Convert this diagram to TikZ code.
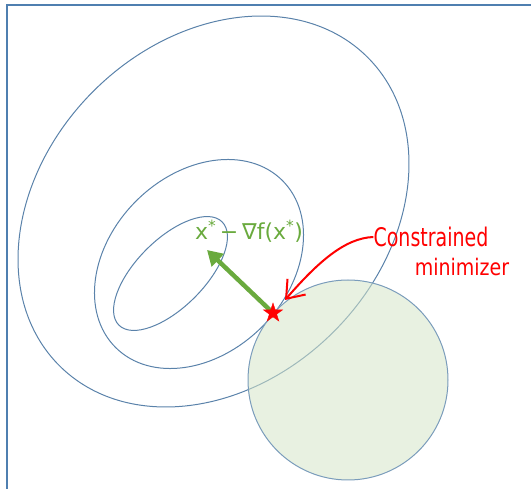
\documentclass[tikz,border=0pt]{standalone}
\usepackage{fontspec}
\setmainfont{DejaVu Sans}
\usepackage{xcolor}
\usepackage{tikz}
\usetikzlibrary{arrows.meta,shapes.geometric}
\definecolor{frameblue}{HTML}{4F7FB0}
\definecolor{levelblue}{HTML}{5A82AA}
\definecolor{circleblue}{HTML}{7A9CBB}
\definecolor{feasgreen}{HTML}{D6E6C8}
\definecolor{gradgreen}{HTML}{6AAA3E}

\begin{document}
\begin{tikzpicture}[x=1pt,y=-1pt,
  frameline/.style={draw=frameblue, line width=1.2pt},
  contour/.style={draw=levelblue, line width=1pt},
  feasible/.style={draw=circleblue, line width=1pt, fill=feasgreen, fill opacity=0.55},
  grad/.style={draw=gradgreen, line width=4.5pt, -{Triangle[length=15pt,width=17pt]}},
  pointer/.style={draw=red, line width=2pt, -{Straight Barb[length=16pt,width=24pt]}},
  minstar/.style={star, star points=5, star point ratio=2.6, minimum size=20pt, inner sep=0pt, fill=red, draw=red},
  gradlabel/.style={text=gradgreen, font=\fontsize{22}{22}\selectfont, inner sep=0pt},
  redlabel/.style={text=red, font=\fontsize{19}{19}\selectfont, inner sep=0pt}
]
  \useasboundingbox (0,0) rectangle (531,489);
  \draw[frameline] (531,5) -- (7,5) -- (7,489);

  % level sets of f
  \draw[contour, rotate around={45:(213.5,211.5)}] (213.5,211.5) ellipse[x radius=218, y radius=170];
  \draw[contour, rotate around={45:(199,264)}] (199,264) ellipse[x radius=118, y radius=89];
  \draw[contour, rotate around={45:(170.5,273.5)}] (170.5,273.5) ellipse[x radius=73, y radius=34];

  % feasible set
  \draw[feasible] (348,380) circle[radius=100];

  \coordinate (xopt) at (273,313);
  \coordinate (gradtip) at (207,250);
  \coordinate (pointtip) at (285,300);
  \draw[grad] (xopt) -- (gradtip);
  \node[minstar] (xstar) at (xopt) {};

  \node[gradlabel] (gradtext) at (249,231) {x\textsuperscript{*}\,−\,∇f(x\textsuperscript{*})};
  \node[redlabel] (cons) at (431,237) {\scalebox{1}[1.35]{Constrained}};
  \node[redlabel] (mini) at (462,267) {\scalebox{1}[1.2]{minimizer}};
  \draw[pointer] (cons.west) .. controls (345,238) and (318,262) .. (pointtip);
\end{tikzpicture}
\end{document}
